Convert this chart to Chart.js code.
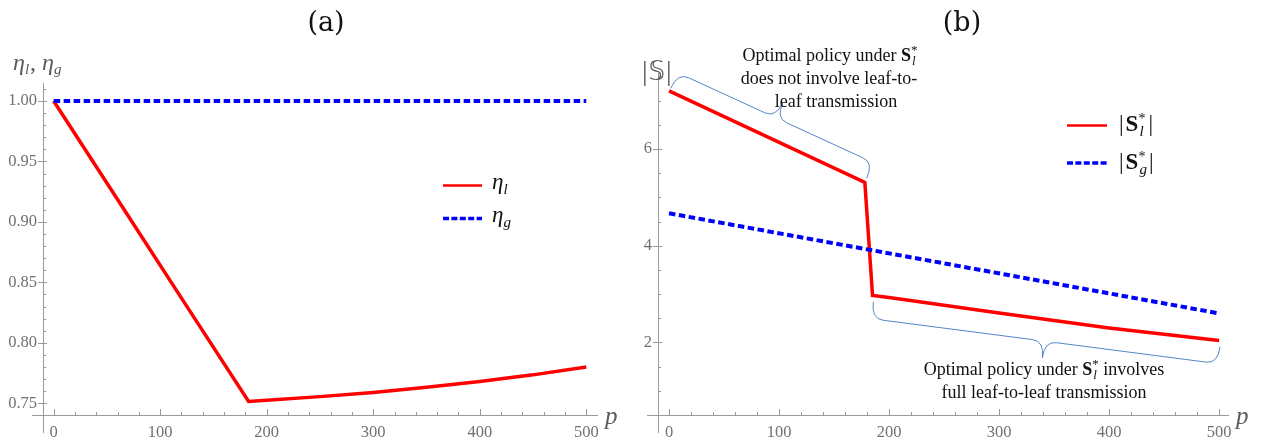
<!DOCTYPE html>
<html>
<head>
<meta charset="utf-8">
<script src="https://cdn.jsdelivr.net/npm/chart.js@4.4.1/dist/chart.umd.min.js"></script>
<style>
  body { margin: 0; background: #fff; }
  #wrap { position: relative; width: 1279px; height: 445px; }
  canvas { position: absolute; top: 0; }
</style>
</head>
<body>
<div id="wrap">
  <canvas id="chartA" width="640" height="445" style="left:0"></canvas>
  <canvas id="chartB" width="639" height="445" style="left:640px"></canvas>
</div>
<script>
// panel (a): efficiency eta vs p
var pEta = [0, 60, 120, 183, 200, 250, 300, 350, 400, 450, 500];
var etaLocal = [1.0, 0.9185, 0.837, 0.7515, 0.7525, 0.7555, 0.759, 0.7632, 0.768, 0.7735, 0.78];
var pEtaGlobal = [0, 500];
var etaGlobal = [1.0, 1.0];

// panel (b): |S| vs p
var pSizeLocal = [0, 178, 185, 200, 300, 400, 500];
var sizeLocal = [7.2, 5.31, 2.97, 2.93, 2.61, 2.3, 2.04];
var pSizeGlobal = [0, 500];
var sizeGlobal = [4.67, 2.6];

var xTicks = [0, 100, 200, 300, 400, 500];
var yTicksA = [0.75, 0.8, 0.85, 0.9, 0.95, 1.0];
var yTicksB = [2, 4, 6];

var SERIF = "'Liberation Serif', 'DejaVu Serif', serif";
var RED = "#ff0000";
var BLUE = "#0000ff";
var AXIS = "#9a9a9a";
var LABEL = "#5a5a5a";

function toPoints(xs, ys) {
  return xs.map(function (x, i) { return { x: x, y: ys[i] }; });
}

function range(from, to, step) {
  var out = [];
  for (var v = from; v <= to + 1e-9; v += step) out.push(Math.round(v * 1000) / 1000);
  return out;
}

// text made of runs: plain, shifted (dy) or stacked sup/sub
function partWidth(ctx, p) {
  if (p.sup !== undefined) {
    ctx.font = p.f;
    var a = ctx.measureText(p.sup).width;
    ctx.font = p.fs;
    var b = ctx.measureText(p.sub).width;
    return Math.max(a, b);
  }
  ctx.font = p.f;
  return ctx.measureText(p.t).width;
}

function drawParts(ctx, parts, x, y, align, color) {
  var total = 0;
  parts.forEach(function (p) { total += partWidth(ctx, p) + (p.gap || 0); });
  var cx = align === "center" ? x - total / 2 : x;
  ctx.save();
  ctx.fillStyle = color;
  ctx.textAlign = "left";
  ctx.textBaseline = "alphabetic";
  parts.forEach(function (p) {
    var w = partWidth(ctx, p);
    if (p.sup !== undefined) {
      ctx.font = p.f;
      ctx.fillText(p.sup, cx, y - p.up);
      ctx.font = p.fs;
      ctx.fillText(p.sub, cx + 1, y + p.down);
    } else {
      ctx.font = p.f;
      ctx.fillText(p.t, cx, y + (p.dy || 0));
    }
    cx += w + (p.gap || 0);
  });
  ctx.restore();
}

// curly brace between two pixel points, bulging along the normal
function drawBrace(ctx, x1, y1, x2, y2, h, r, sign) {
  var dx = x2 - x1, dy = y2 - y1, L = Math.hypot(dx, dy);
  var ux = dx / L, uy = dy / L;
  var nx = uy * sign, ny = -ux * sign;
  function P(a, b) { return [x1 + ux * a + nx * b, y1 + uy * a + ny * b]; }
  var m = L / 2;
  ctx.save();
  ctx.strokeStyle = "#5585c8";
  ctx.lineWidth = 1;
  ctx.beginPath();
  var p = P(0, 0); ctx.moveTo(p[0], p[1]);
  var c = P(0, h), e = P(r, h); ctx.quadraticCurveTo(c[0], c[1], e[0], e[1]);
  e = P(m - r, h); ctx.lineTo(e[0], e[1]);
  c = P(m, h); e = P(m, 2 * h); ctx.quadraticCurveTo(c[0], c[1], e[0], e[1]);
  c = P(m, h); e = P(m + r, h); ctx.quadraticCurveTo(c[0], c[1], e[0], e[1]);
  e = P(L - r, h); ctx.lineTo(e[0], e[1]);
  c = P(L, h); e = P(L, 0); ctx.quadraticCurveTo(c[0], c[1], e[0], e[1]);
  ctx.stroke();
  ctx.restore();
}

function drawAxes(chart, xMinor, yMinor) {
  var ctx = chart.ctx, a = chart.chartArea;
  var xs = chart.scales.x, ys = chart.scales.y;
  ctx.save();
  ctx.strokeStyle = AXIS;
  ctx.lineWidth = 1;
  ctx.beginPath();
  ctx.moveTo(a.left + 0.5, a.top);
  ctx.lineTo(a.left + 0.5, a.bottom + 18);
  ctx.moveTo(a.left - 11, a.bottom + 0.5);
  ctx.lineTo(a.right, a.bottom + 0.5);
  xMinor.forEach(function (v) {
    var px = Math.round(xs.getPixelForValue(v)) + 0.5;
    var len = xTicks.indexOf(v) >= 0 ? 6 : 3;
    ctx.moveTo(px, a.bottom);
    ctx.lineTo(px, a.bottom - len);
  });
  yMinor.forEach(function (v) {
    var py = Math.round(ys.getPixelForValue(v)) + 0.5;
    ctx.moveTo(a.left, py);
    ctx.lineTo(a.left + 3, py);
  });
  ys.ticks.forEach(function (t) {
    var py = Math.round(ys.getPixelForValue(t.value)) + 0.5;
    ctx.moveTo(a.left - 5, py);
    ctx.lineTo(a.left + 4, py);
  });
  ctx.stroke();
  ctx.restore();
}

function legendLine(ctx, x1, x2, y, color, dash, width) {
  ctx.save();
  ctx.strokeStyle = color;
  ctx.lineWidth = width;
  ctx.setLineDash(dash);
  ctx.beginPath();
  ctx.moveTo(x1, y);
  ctx.lineTo(x2, y);
  ctx.stroke();
  ctx.restore();
}

function scalesFor(xMax, yMin, yMax, yTicks, yWidth, yFormat) {
  var tickFont = { family: SERIF, size: 16.5 };
  return {
    x: {
      type: "linear", min: -10, max: xMax,
      grid: { display: false, drawTicks: false },
      border: { display: false },
      afterBuildTicks: function (s) { s.ticks = xTicks.map(function (v) { return { value: v }; }); },
      afterFit: function (s) { s.height = 30; },
      ticks: { font: tickFont, color: "#707070", padding: 8, maxRotation: 0, autoSkip: false }
    },
    y: {
      type: "linear", min: yMin, max: yMax,
      grid: { display: false, drawTicks: false },
      border: { display: false },
      afterBuildTicks: function (s) { s.ticks = yTicks.map(function (v) { return { value: v }; }); },
      afterFit: function (s) { s.width = yWidth; },
      ticks: { font: tickFont, color: "#707070", padding: 6, autoSkip: false, callback: yFormat }
    }
  };
}

var xMinor = range(0, 500, 20);

var extrasA = {
  id: "extrasA",
  beforeDatasetsDraw: function (chart) {
    drawAxes(chart, xMinor, range(0.75, 1.01, 0.01));
  },
  afterDatasetsDraw: function (chart) {
    var ctx = chart.ctx;
    drawParts(ctx, [{ t: "(a)", f: "27px 'DejaVu Serif', serif" }], 326, 31, "center", "#111");
    drawParts(ctx, [
      { t: "\u03b7", f: "italic 24px " + SERIF },
      { t: "l", f: "italic 15px " + SERIF, dy: 4, gap: 1 },
      { t: ", ", f: "24px " + SERIF },
      { t: "\u03b7", f: "italic 24px " + SERIF },
      { t: "g", f: "italic 15px " + SERIF, dy: 4 }
    ], 13, 70, "left", LABEL);
    drawParts(ctx, [{ t: "p", f: "italic 25px " + SERIF }], 605, 424, "left", LABEL);
    legendLine(ctx, 443, 482, 185.5, RED, [], 2.7);
    legendLine(ctx, 443, 482, 218.5, BLUE, [6, 2.4], 3.5);
    drawParts(ctx, [
      { t: "\u03b7", f: "italic 23px " + SERIF },
      { t: "l", f: "italic 15px " + SERIF, dy: 5 }
    ], 492, 189, "left", "#111");
    drawParts(ctx, [
      { t: "\u03b7", f: "italic 23px " + SERIF },
      { t: "g", f: "italic 15px " + SERIF, dy: 5 }
    ], 492, 222, "left", "#111");
  }
};

var extrasB = {
  id: "extrasB",
  beforeDatasetsDraw: function (chart) {
    drawAxes(chart, xMinor, range(1, 7.5, 0.5));
  },
  afterDatasetsDraw: function (chart) {
    var ctx = chart.ctx, xs = chart.scales.x, ys = chart.scales.y;
    var F = "18px " + SERIF;
    var sBold = { t: "S", f: "bold 18px " + SERIF };
    var sStar = { sup: "*", sub: "l", f: "13px " + SERIF, fs: "italic 13px " + SERIF, up: 7, down: 4 };
    drawParts(ctx, [{ t: "(b)", f: "27px 'DejaVu Serif', serif" }], 322, 31, "center", "#111");
    drawParts(ctx, [
      { t: "|", f: "28px " + SERIF, gap: 1 },
      { t: "\ud835\udd4a", f: "26px 'DejaVu Sans', sans-serif", gap: 1 },
      { t: "|", f: "28px " + SERIF }
    ], 2, 80, "left", LABEL);
    drawParts(ctx, [{ t: "p", f: "italic 25px " + SERIF }], 596, 424, "left", LABEL);

    // legend
    legendLine(ctx, 427, 467, 125.5, RED, [], 2.7);
    legendLine(ctx, 427, 467, 163, BLUE, [6, 2.4], 3.5);
    drawParts(ctx, [
      { t: "|", f: "23px " + SERIF, gap: 2 },
      { t: "S", f: "bold 23px " + SERIF },
      { sup: "*", sub: "l", f: "14px " + SERIF, fs: "italic 15px " + SERIF, up: 8, down: 5, gap: 3 },
      { t: "|", f: "23px " + SERIF }
    ], 479, 131, "left", "#111");
    drawParts(ctx, [
      { t: "|", f: "23px " + SERIF, gap: 2 },
      { t: "S", f: "bold 23px " + SERIF },
      { sup: "*", sub: "g", f: "14px " + SERIF, fs: "italic 15px " + SERIF, up: 8, down: 5, gap: 3 },
      { t: "|", f: "23px " + SERIF }
    ], 479, 169, "left", "#111");

    // annotations and braces, anchored to data units
    drawBrace(ctx, xs.getPixelForValue(1.5), ys.getPixelForValue(7.255),
      xs.getPixelForValue(179.7), ys.getPixelForValue(5.394), 17, 12, 1);
    drawBrace(ctx, xs.getPixelForValue(185.7), ys.getPixelForValue(2.84),
      xs.getPixelForValue(500.9), ys.getPixelForValue(1.91), 17, 12, -1);

    drawParts(ctx, [{ t: "Optimal policy under ", f: F }, sBold, sStar], 190, 61, "center", "#111");
    drawParts(ctx, [{ t: "does not involve leaf-to-", f: F }], 189, 84, "center", "#111");
    drawParts(ctx, [{ t: "leaf transmission", f: F }], 196, 107, "center", "#111");
    drawParts(ctx, [{ t: "Optimal policy under ", f: F }, sBold, sStar, { t: " involves", f: F }], 404, 375, "center", "#111");
    drawParts(ctx, [{ t: "full leaf-to-leaf transmission", f: F }], 404, 398, "center", "#111");
  }
};

function lineSet(xs, ys, color, dashed) {
  return {
    data: toPoints(xs, ys),
    borderColor: color,
    borderWidth: dashed ? 4 : 3.5,
    borderDash: dashed ? [6.5, 3.5] : [],
    borderCapStyle: "butt",
    pointRadius: 0,
    tension: 0,
    fill: false
  };
}

var baseOptions = function (scales, pad) {
  return {
    responsive: false,
    animation: false,
    layout: { padding: pad },
    scales: scales,
    plugins: { legend: { display: false }, tooltip: { enabled: false } }
  };
};

new Chart(document.getElementById("chartA"), {
  type: "line",
  data: {
    datasets: [
      lineSet(pEtaGlobal, etaGlobal, BLUE, true),
      lineSet(pEta, etaLocal, RED, false)
    ]
  },
  options: baseOptions(
    scalesFor(511, 0.7403, 1.0149, yTicksA, 43, function (v) { return Number(v).toFixed(2); }),
    { left: 0, right: 42, top: 83, bottom: 0 }
  ),
  plugins: [extrasA]
});

new Chart(document.getElementById("chartB"), {
  type: "line",
  data: {
    datasets: [
      lineSet(pSizeGlobal, sizeGlobal, BLUE, true),
      lineSet(pSizeLocal, sizeLocal, RED, false)
    ]
  },
  options: baseOptions(
    scalesFor(509, 0.5, 7.57, yTicksB, 18, function (v) { return String(v); }),
    { left: 0, right: 50, top: 73, bottom: 0 }
  ),
  plugins: [extrasB]
});
</script>
</body>
</html>
